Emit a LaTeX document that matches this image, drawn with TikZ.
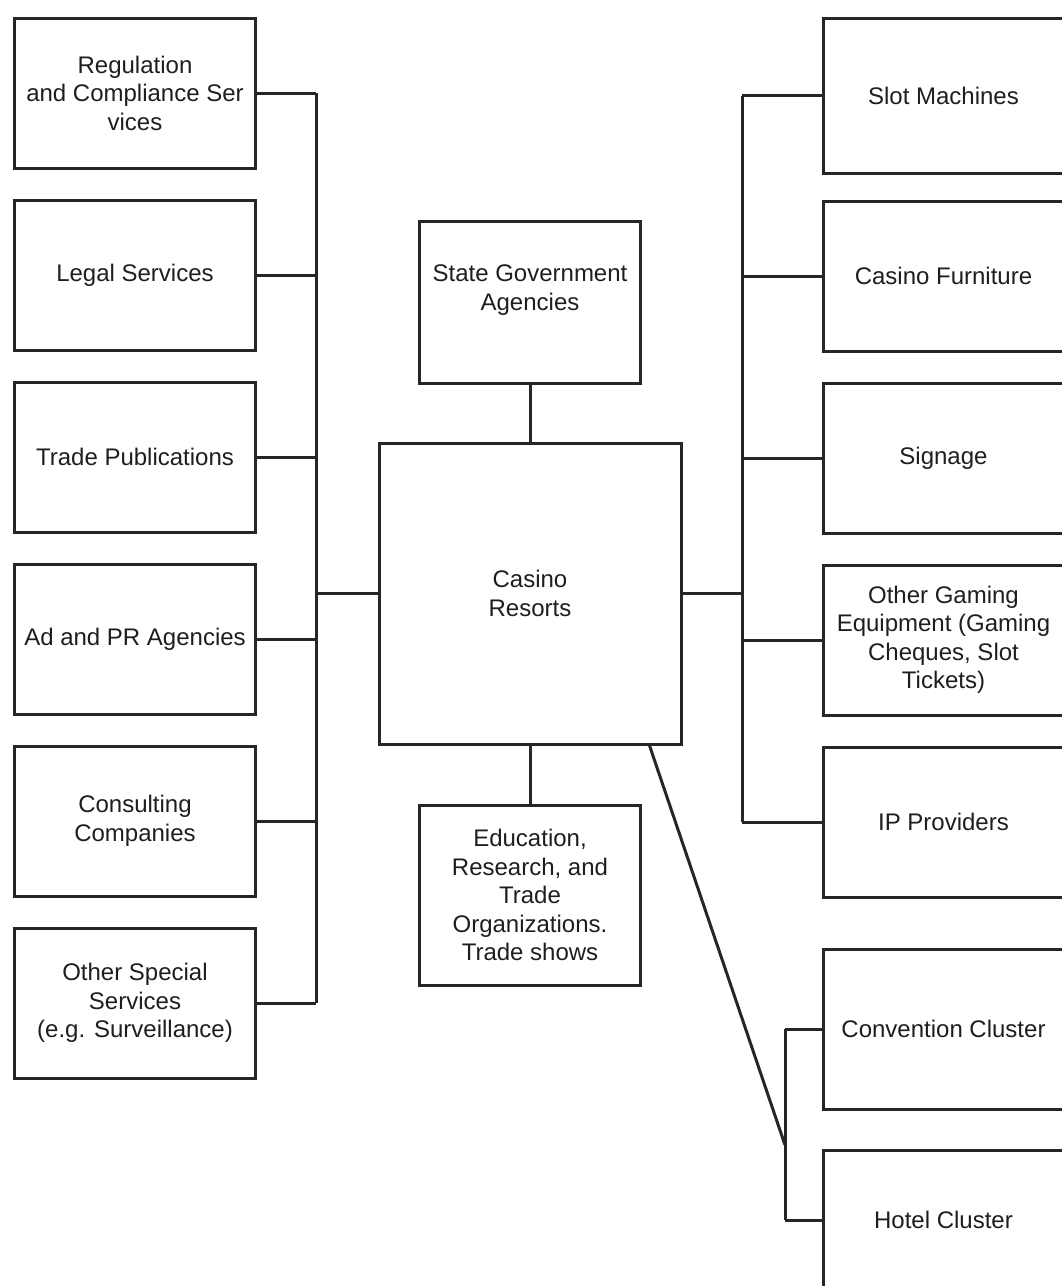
\documentclass[tikz,border=0pt]{standalone}
\usepackage{fontspec}
\setmainfont{Liberation Sans}
\usetikzlibrary{positioning,calc}
\definecolor{line}{HTML}{262626}
\definecolor{ink}{HTML}{1E1E1E}
\tikzset{box/.style={draw=line,line width=3pt,align=center,minimum width=241pt,
  minimum height=150pt,inner sep=4pt,text=ink,font=\fontsize{24}{28.5}\selectfont},
  link/.style={draw=line,line width=3pt}}

\begin{document}
\begin{tikzpicture}[x=1pt,y=1pt,node distance=29pt]
\useasboundingbox (0,0) rectangle (1062,-1286);
\clip (0,0) rectangle (1062,-1286);
% left column
\node[box] (reg) at (135,-93) {Regulation\\and Compliance Ser\\vices};
\node[box,below=of reg] (legal) {Legal Services};
\node[box,below=of legal] (trade) {Trade Publications};
\node[box,below=of trade] (adpr) {Ad and PR Agencies};
\node[box,below=of adpr] (consult) {Consulting\\Companies};
\node[box,below=of consult] (special) {Other Special\\Services\\(e.g. Surveillance)};
% centre
\node[box,minimum width=302pt,minimum height=301pt] (casino) at (530,-593.5) {Casino\\Resorts};
\node[box,minimum width=221pt,minimum height=162pt,above=57pt of casino] (state) {State Government\\Agencies\\\mbox{}};
\node[box,minimum width=221pt,minimum height=180pt,below=58pt of casino] (edu) {Education,\\Research, and\\Trade\\Organizations.\\Trade shows};
% right column
\node[box,minimum height=155pt] (slot) at (943.5,-95.5) {Slot Machines};
\node[box] (furn) at (943.5,-276) {Casino Furniture};
\node[box,below=of furn] (sign) {Signage};
\node[box,below=of sign] (gaming) {Other Gaming\\Equipment (Gaming\\Cheques, Slot\\Tickets)};
\node[box,below=of gaming] (ipp) {IP Providers};
\node[box,minimum height=160pt] (conv) at (943.5,-1029) {Convention Cluster};
\node[box,minimum height=140pt,below=38pt of conv] (hotel) {Hotel Cluster};
% spines
\coordinate (lsp) at (316,0);
\coordinate (rsp) at (742,0);
\coordinate (csp) at (785,0);
\coordinate (cjoin) at (785,-1145);
\draw[link] (reg.east -| lsp) -- (special.east -| lsp);
\foreach \n in {reg,legal,trade,adpr,consult,special}
  \draw[link] (\n.east) -- (\n.east -| lsp);
\draw[link] (casino.west) -- (casino.west -| lsp);
\draw[link] (slot.west -| rsp) -- (ipp.west -| rsp);
\foreach \n in {slot,furn,sign,gaming,ipp}
  \draw[link] (\n.west) -- (\n.west -| rsp);
\draw[link] (casino.east) -- (casino.east -| rsp);
\draw[link] (state) -- (casino);\draw[link] (casino) -- (edu);
\draw[link] (conv.west -| csp) -- (hotel.west -| csp);
\draw[link] (conv.west) -- (conv.west -| csp);\draw[link] (hotel.west) -- (hotel.west -| csp);
\draw[link] ([xshift=-33pt]casino.south east) -- (cjoin);
\end{tikzpicture}
\end{document}
